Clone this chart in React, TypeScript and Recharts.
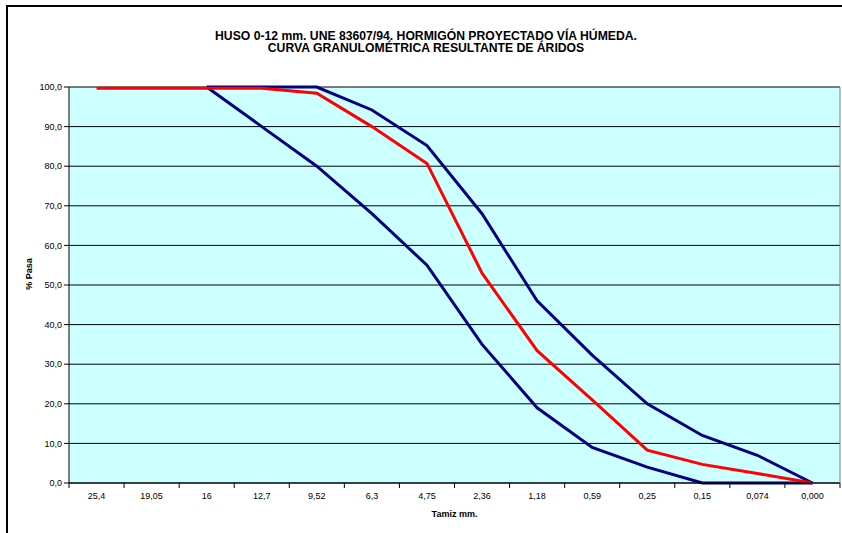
import { LineChart, Line, XAxis, YAxis, CartesianGrid, Label } from 'recharts';

// tamices (mm) y % que pasa
const tamiz = ['25,4', '19,05', '16', '12,7', '9,52', '6,3', '4,75', '2,36', '1,18', '0,59', '0,25', '0,15', '0,074', '0,000'];
const limiteSuperior = [null, null, 100, 100, 100, 94.2, 85.2, 68, 46, 32.3, 20, 12, 7, 0];
const limiteInferior = [null, null, 100, 90, 80, 68, 55, 35, 19, 9, 4, 0, 0, 0];
const curvaAridos = [99.7, 99.7, 99.7, 99.7, 98.4, 90, 80.7, 53, 33.4, 21, 8.3, 4.7, 2.4, 0];
const yTicks = [0, 10, 20, 30, 40, 50, 60, 70, 80, 90, 100];

const titulo = [
  'HUSO 0-12 mm. UNE 83607/94. HORMIGÓN PROYECTADO VÍA HÚMEDA.',
  'CURVA GRANULOMÉTRICA RESULTANTE DE ÁRIDOS',
];

const W = 842;
const H = 533;
const PLOT_LEFT = 69;
const PLOT_TOP = 87;
const PLOT_RIGHT = 840;
const PLOT_BOTTOM = 483;
const BAND = (PLOT_RIGHT - PLOT_LEFT) / tamiz.length;
const FONT = '"Liberation Sans", Arial, sans-serif';

const data = tamiz.map((t, i) => ({
  tamiz: t,
  sup: limiteSuperior[i],
  inf: limiteInferior[i],
  aridos: curvaAridos[i],
}));

const formatY = (v: number) => v.toFixed(1).replace('.', ',');

function XTick(props: any) {
  const { x, payload, index } = props;
  const last = index === tamiz.length - 1;
  return (
    <g>
      <line x1={x - BAND / 2} x2={x - BAND / 2} y1={PLOT_BOTTOM} y2={PLOT_BOTTOM + 5} stroke="#000" />
      {last && <line x1={x + BAND / 2} x2={x + BAND / 2} y1={PLOT_BOTTOM} y2={PLOT_BOTTOM + 5} stroke="#000" />}
      <text x={x} y={PLOT_BOTTOM + 16} textAnchor="middle" fontSize={9} fill="#000" fontFamily={FONT}>
        {payload.value}
      </text>
    </g>
  );
}

export default function App() {
  return (
    <div style={{ position: 'fixed', left: 0, top: 0, width: W, height: H, overflow: 'hidden', background: '#fff' }}>
      <div
        style={{
          position: 'absolute',
          left: 6,
          top: 5,
          width: 900,
          height: 600,
          border: '2px solid #000',
        }}
      />
      <div style={{ position: 'absolute', left: 0, top: 0 }}>
        <LineChart width={W} height={H} data={data} margin={{ top: PLOT_TOP, right: W - PLOT_RIGHT - 2, bottom: 0, left: 0 }}>
          <CartesianGrid vertical={false} stroke="#000" fill="#CCFFFF" />
          <XAxis
            dataKey="tamiz"
            height={H - PLOT_BOTTOM}
            padding={{ left: BAND / 2, right: BAND / 2 }}
            axisLine={{ stroke: '#000' }}
            tickLine={false}
            tick={<XTick />}
            interval={0}
          >
            <Label value="Tamiz mm." position="insideBottom" offset={16} fontSize={9} fontWeight="bold" fill="#000" fontFamily={FONT} />
          </XAxis>
          <XAxis xAxisId="top" dataKey="tamiz" orientation="top" height={0} tick={false} tickLine={false} axisLine={{ stroke: '#808080' }} />
          <YAxis
            width={PLOT_LEFT}
            domain={[0, 100]}
            ticks={yTicks}
            tickFormatter={formatY}
            tickSize={5}
            tickMargin={2}
            tick={{ fontSize: 9, fill: '#000', fontFamily: FONT }}
            axisLine={{ stroke: '#000' }}
            tickLine={{ stroke: '#000' }}
          >
            <Label
              content={() => (
                <text
                  x={32}
                  y={274}
                  transform="rotate(-90 32 274)"
                  textAnchor="middle"
                  fontSize={9}
                  fontWeight="bold"
                  fill="#000"
                  fontFamily={FONT}
                >
                  % Pasa
                </text>
              )}
            />
          </YAxis>
          <YAxis yAxisId="r" orientation="right" width={2} domain={[0, 100]} tick={false} tickLine={false} axisLine={{ stroke: '#808080' }} />
          <Line type="linear" dataKey="sup" stroke="#000080" strokeWidth={3} dot={false} isAnimationActive={false} />
          <Line type="linear" dataKey="inf" stroke="#000080" strokeWidth={3} dot={false} isAnimationActive={false} />
          <Line type="linear" dataKey="aridos" stroke="#FF0000" strokeWidth={3} dot={false} isAnimationActive={false} />
        </LineChart>
      </div>
      <svg width={W} height={70} style={{ position: 'absolute', left: 0, top: 0, pointerEvents: 'none' }}>
        {titulo.map((t, i) => (
          <text key={t} x={426} y={39.5 + i * 12.5} textAnchor="middle" fontSize={12.2} fontWeight="bold" fill="#000" fontFamily={FONT}>
            {t}
          </text>
        ))}
      </svg>
    </div>
  );
}
